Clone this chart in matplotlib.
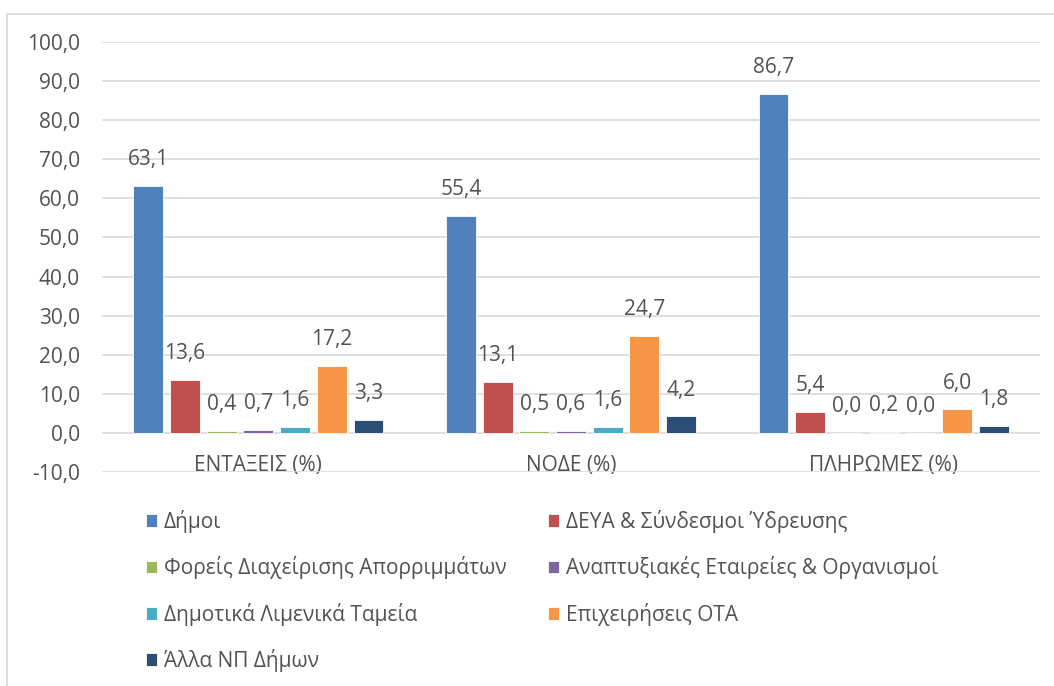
import numpy as np
import matplotlib
matplotlib.use("Agg")
import matplotlib.pyplot as plt
from matplotlib.patches import Rectangle

plt.rcParams['font.family'] = ['Open Sans', 'DejaVu Sans']

# data
categories = ['ΕΝΤΑΞΕΙΣ (%)', 'ΝΟΔΕ (%)', 'ΠΛΗΡΩΜΕΣ (%)']
series = ['Δήμοι', 'ΔΕΥΑ & Σύνδεσμοι Ύδρευσης',
          'Φορείς Διαχείρισης Απορριμμάτων', 'Αναπτυξιακές Εταιρείες & Οργανισμοί',
          'Δημοτικά Λιμενικά Ταμεία', 'Επιχειρήσεις ΟΤΑ', 'Άλλα ΝΠ Δήμων']
dimoi = [63.1, 55.4, 86.7]
deya = [13.6, 13.1, 5.4]
foreis = [0.4, 0.5, 0.0]
anaptyxiakes = [0.7, 0.6, 0.2]
limenika = [1.6, 1.6, 0.0]
epixeiriseis = [17.2, 24.7, 6.0]
alla = [3.3, 4.2, 1.8]
values = [dimoi, deya, foreis, anaptyxiakes, limenika, epixeiriseis, alla]
yticks = np.arange(-10, 101, 10)

colors = ['#4F81BD', '#C0504D', '#9BBB59', '#8064A2', '#4BACC6', '#F79646', '#2C4D75']
txt = '#525252'
grid = '#D9D9D9'
fs = 15


def fmt(v):
    return ('%.1f' % v).replace('.', ',')


fig = plt.figure(figsize=(10.54, 6.86), dpi=100)
# outer chart border
fig.patches.append(Rectangle((7 / 1054, -0.1), 1.2, 1 - 14 / 686 + 0.1,
                             transform=fig.transFigure, fill=False,
                             edgecolor=grid, linewidth=1.2))

ax = fig.add_axes([102 / 1054, 1 - 472 / 686, (1040 - 102) / 1054, (472 - 42) / 686])

x = np.arange(len(categories))
step = 0.1173
width = 0.095
n = len(series)
handles = []
for i, (name, vals) in enumerate(zip(series, values)):
    pos = x + (i - (n - 1) / 2) * step
    bars = ax.bar(pos, vals, width, color=colors[i], label=name,
                  edgecolor='white', linewidth=0.6, zorder=3)
    handles.append(bars)
    for p, v in zip(pos, vals):
        ax.annotate(fmt(v), (p, v), xytext=(0, 19), textcoords='offset points',
                    ha='center', va='center', fontsize=fs, color=txt, zorder=4)

ax.set_xlim(-0.5, 2.5)
ax.set_ylim(-10, 100)
ax.set_yticks(yticks)
ax.set_yticklabels([fmt(t) for t in yticks])
ax.set_xticks(x)
ax.set_xticklabels(categories)
ax.tick_params(axis='y', length=0, pad=16, labelsize=fs, labelcolor=txt)
ax.tick_params(axis='x', length=0, pad=-12, labelsize=fs, labelcolor=txt)
ax.grid(axis='y', color=grid, linewidth=1.2, zorder=0)
ax.set_axisbelow(True)
for s in ax.spines.values():
    s.set_visible(False)

# legend filled row by row (matplotlib fills columns first)
order = [0, 2, 4, 6, 1, 3, 5]
fig.legend([handles[k] for k in order], [series[k] for k in order],
           loc='upper left', bbox_to_anchor=(146 / 1054, 1 - 510 / 686), ncol=2,
           frameon=False, fontsize=fs, labelcolor=txt, handlelength=0.55,
           handleheight=0.55, handletextpad=0.3, columnspacing=2.0,
           labelspacing=1.12, borderpad=0, borderaxespad=0)

fig.savefig('out.png', dpi=100)
